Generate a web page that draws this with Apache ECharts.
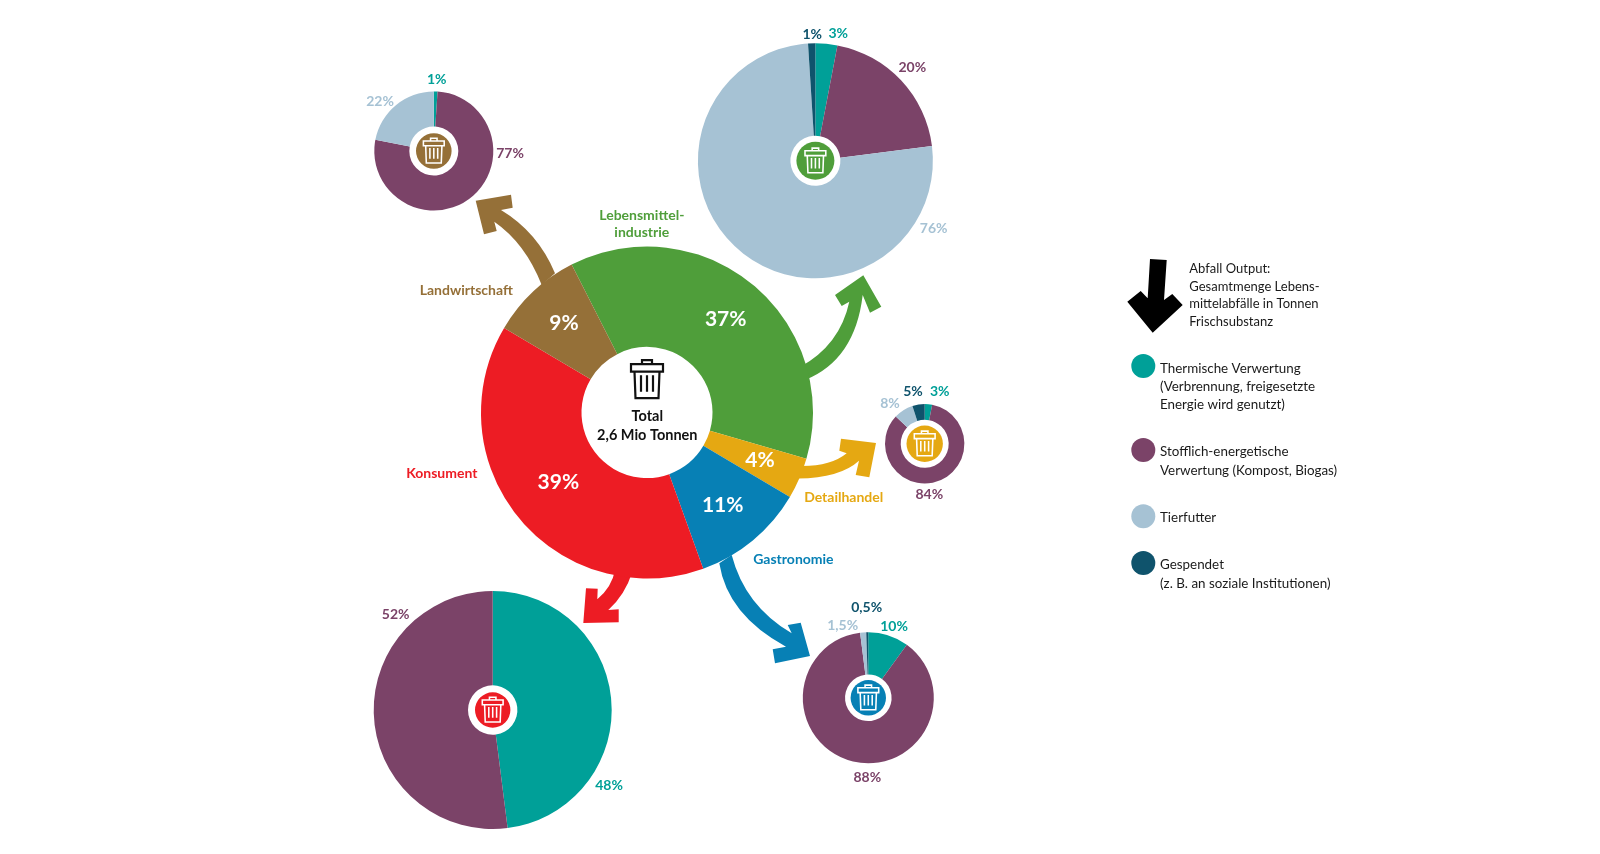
<!DOCTYPE html>
<html>
<head>
<meta charset="utf-8">
<style>
  html, body { margin: 0; background: #fff; }
  #chart { width: 1600px; height: 854px; }
</style>
<script src="https://cdn.jsdelivr.net/npm/echarts@6/dist/echarts.min.js"></script>
</head>
<body>
<div id="chart"></div>
<script>
// Share of food waste by sector
const sectors = ['Lebensmittelindustrie', 'Detailhandel', 'Gastronomie', 'Konsument', 'Landwirtschaft'];
const sectorShares = [37, 4, 11, 39, 9];

// What happens to the waste of each sector, same order as outputs
const outputs = ['Thermische Verwertung', 'Stofflich-energetische Verwertung', 'Tierfutter', 'Gespendet'];
const industrieOutput = [3, 20, 76, 1];
const detailhandelOutput = [3, 84, 8, 5];
const gastronomieOutput = [10, 88, 1.5, 0.5];
const konsumentOutput = [48, 52, 0, 0];
const landwirtschaftOutput = [1, 77, 22, 0];

const sectorColors = ['#4f9e3a', '#e5a812', '#0780b5', '#ed1c24', '#957038'];
const outputColors = ['#00a098', '#7b4368', '#a6c2d4', '#0f536c'];

const FONT = 'Lato, "Open Sans", sans-serif';

// pie geometry and label spots for the small pies
const smallPies = [
  { values: industrieOutput, color: sectorColors[0], c: [815.4, 160.8], r: 117.5, hole: 25, hub: 19,
    labels: [[838.3, 33.3], [912.3, 67.7], [933.7, 228.6], [812.3, 34]] },
  { values: detailhandelOutput, color: sectorColors[1], c: [924.7, 443.8], r: 39.7, hole: 24, hub: 18.2,
    labels: [[939.7, 391], [929.3, 494], [890, 403.3], [913, 391]] },
  { values: gastronomieOutput, color: sectorColors[2], c: [868.3, 697.8], r: 65.5, hole: 23.3, hub: 17.7,
    labels: [[894, 626], [867.3, 777.3], [842.7, 625], [866.7, 607.7]] },
  { values: konsumentOutput, color: sectorColors[3], c: [492.7, 710], r: 119, hole: 24.7, hub: 17.7,
    labels: [[609, 785.7], [395.7, 614]] },
  { values: landwirtschaftOutput, color: sectorColors[4], c: [433.8, 151], r: 59.5, hole: 24.5, hub: 17.8,
    labels: [[436.7, 79.3], [510, 153.3], [380, 101]] }
];

const mainCenter = [647, 412.5];
const mainLabelSpots = [[725.7, 319.3], [760, 460], [722.7, 505.7], [558.3, 482.3], [564, 323.3]];

// curved arrows, drawn under the pies
const arrows = [
  { color: sectorColors[0], d: 'M 800 367 Q 840 345 849.3 301.7 L 841.7 306 L 835 295 L 863.3 275.3 L 881.3 306.7 L 870 312.7 L 862.7 295 Q 855 360 805 380 Z' },
  { color: sectorColors[1], d: 'M 798 466 Q 830 467 846.7 453.3 L 839.3 450.7 L 841 438.7 L 876 443 L 869.3 477.3 L 855.7 475 L 859 460.7 Q 840 478 798 478.5 Z' },
  { color: sectorColors[2], d: 'M 731.7 555 Q 744.9 605.9 791.7 633.3 L 787.7 625 L 800.7 622.7 L 810 656 L 775 663.3 L 772.7 649.3 L 786 646.7 Q 727.4 615 719.3 563.3 Z' },
  { color: sectorColors[3], d: 'M 632.3 572 Q 625 595 608.3 610 L 618.7 609.3 L 618.7 622.3 L 583.3 623 L 586 588.3 L 597.7 588.7 L 597.3 599.3 Q 612 587 615 570 Z' },
  { color: sectorColors[4], d: 'M 555 273.3 Q 538 232.3 501 210 L 512.7 207.7 L 511 194.7 L 475.7 200.7 L 484 234.3 L 496.7 231 L 494.3 221.7 Q 525.4 243.3 541.7 285 Z' },
  { color: '#000', d: 'M 1150 259 L 1166.7 260 L 1164 300 L 1172.3 294 L 1182.7 305 L 1152.7 332.7 L 1127.3 301.7 L 1140.7 291 L 1147.7 298.3 Z' }
];

const TRASH = 'M -5 -15.5 L -5 -19.5 L 5 -19.5 L 5 -15.5 M -16 -15.5 L 16 -15.5 L 16 -8 L -16 -8 Z ' +
  'M -12.5 -8 L -11.5 18.5 L 11.5 18.5 L 12.5 -8 M -6 -4.5 L -6 12 M 0 -4.5 L 0 12 M 6 -4.5 L 6 12';

const sectorText = [
  { lines: ['Lebensmittel-', 'industrie'], color: sectorColors[0], x: 641.8, y: 215.5 },
  { lines: ['Detailhandel'], color: sectorColors[1], x: 843.7, y: 497.3 },
  { lines: ['Gastronomie'], color: sectorColors[2], x: 793.4, y: 559.3 },
  { lines: ['Konsument'], color: sectorColors[3], x: 441.8, y: 473.5 },
  { lines: ['Landwirtschaft'], color: sectorColors[4], x: 466.3, y: 290.8 }
];

const legendText = [
  { lines: ['Thermische Verwertung', '(Verbrennung, freigesetzte', 'Energie wird genutzt)'], y: 368.3, dot: 366 },
  { lines: ['Stofflich-energetische', 'Verwertung (Kompost, Biogas)'], y: 452, dot: 450 },
  { lines: ['Tierfutter'], y: 518, dot: 516.3 },
  { lines: ['Gespendet', '(z. B. an soziale Institutionen)'], y: 565, dot: 563 }
];
const outputNote = ['Abfall Output:', 'Gesamtmenge Lebens-', 'mittelabfälle in Tonnen', 'Frischsubstanz'];

function pct(p) {
  return String(p.value).replace('.', ',') + '%';
}

function textLine(text, x, y, fill, font, align) {
  return {
    type: 'text', z: 5, silent: true,
    style: { text: text, x: x, y: y, fill: fill, font: font, textAlign: align, textVerticalAlign: 'middle' }
  };
}

const graphics = [];
graphics.push(textLine('Total', 647.3, 416.3, '#111', '700 14.5px ' + FONT, 'center'));
graphics.push(textLine('2,6 Mio Tonnen', 647.3, 435, '#111', '700 14.5px ' + FONT, 'center'));
sectorText.forEach(s => {
  s.lines.forEach((l, i) => {
    graphics.push(textLine(l, s.x, s.y + i * 17, s.color, '700 14px ' + FONT, 'center'));
  });
});
outputNote.forEach((l, i) => {
  graphics.push(textLine(l, 1189.3, 269.3 + i * 17.5, '#1a1a1a', '400 13px ' + FONT, 'left'));
});
legendText.forEach((item, k) => {
  graphics.push({
    type: 'circle', z: 5, silent: true,
    shape: { cx: 1143.3, cy: item.dot, r: 12 },
    style: { fill: outputColors[k] }
  });
  item.lines.forEach((l, i) => {
    graphics.push(textLine(l, 1160, item.y + i * 18.3, '#1a1a1a', '400 13.4px ' + FONT, 'left'));
  });
});

const series = [];

series.push({
  type: 'custom',
  coordinateSystem: 'none',
  z: 1,
  silent: true,
  data: arrows.map((a, i) => [i]),
  renderItem: function (params) {
    const a = arrows[params.dataIndex];
    return { type: 'path', shape: { pathData: a.d }, style: { fill: a.color } };
  }
});

series.push({
  type: 'pie',
  name: 'Total',
  z: 2,
  center: mainCenter,
  radius: [65.5, 166],
  startAngle: 117,
  avoidLabelOverlap: false,
  silent: true,
  label: { show: true, position: 'inside', formatter: pct, color: '#fff', fontFamily: FONT, fontWeight: 700, fontSize: 21 },
  labelLine: { show: false },
  labelLayout: function (p) {
    const s = mainLabelSpots[p.dataIndex];
    return { x: s[0], y: s[1], align: 'center', verticalAlign: 'middle' };
  },
  data: sectors.map((n, i) => ({ name: n, value: sectorShares[i], itemStyle: { color: sectorColors[i] } }))
});

smallPies.forEach(pie => {
  const data = [];
  pie.values.forEach((v, i) => {
    if (v > 0) {
      data.push({ name: outputs[i], value: v, itemStyle: { color: outputColors[i] }, label: { color: outputColors[i] } });
    }
  });
  series.push({
    type: 'pie',
    z: 2,
    center: pie.c,
    radius: [pie.hole, pie.r],
    startAngle: 90,
    avoidLabelOverlap: false,
    silent: true,
    label: { show: true, position: 'outside', formatter: pct, fontFamily: FONT, fontWeight: 700, fontSize: 14 },
    labelLine: { show: false },
    labelLayout: function (p) {
      const s = pie.labels[p.dataIndex];
      return { x: s[0], y: s[1], align: 'center', verticalAlign: 'middle' };
    },
    data: data
  });
});

// coloured hubs with the bin icon, plus the big black bin in the middle
series.push({
  type: 'custom',
  coordinateSystem: 'none',
  z: 3,
  silent: true,
  data: smallPies.map((p, i) => [i]).concat([[smallPies.length]]),
  renderItem: function (params) {
    const pie = smallPies[params.dataIndex];
    if (!pie) {
      return {
        type: 'path', x: 647, y: 379.7,
        shape: { pathData: TRASH },
        style: { fill: 'none', stroke: '#111', lineWidth: 2.2 }
      };
    }
    return {
      type: 'group',
      children: [
        { type: 'circle', shape: { cx: pie.c[0], cy: pie.c[1], r: pie.hub }, style: { fill: pie.color } },
        {
          type: 'path', x: pie.c[0], y: pie.c[1], scaleX: 0.65, scaleY: 0.65,
          shape: { pathData: TRASH },
          style: { fill: 'none', stroke: '#fff', lineWidth: 2.4 }
        }
      ]
    };
  }
});

const chart = echarts.init(document.getElementById('chart'));
chart.setOption({
  animation: false,
  backgroundColor: '#fff',
  graphic: { elements: graphics },
  series: series
});
</script>
</body>
</html>
